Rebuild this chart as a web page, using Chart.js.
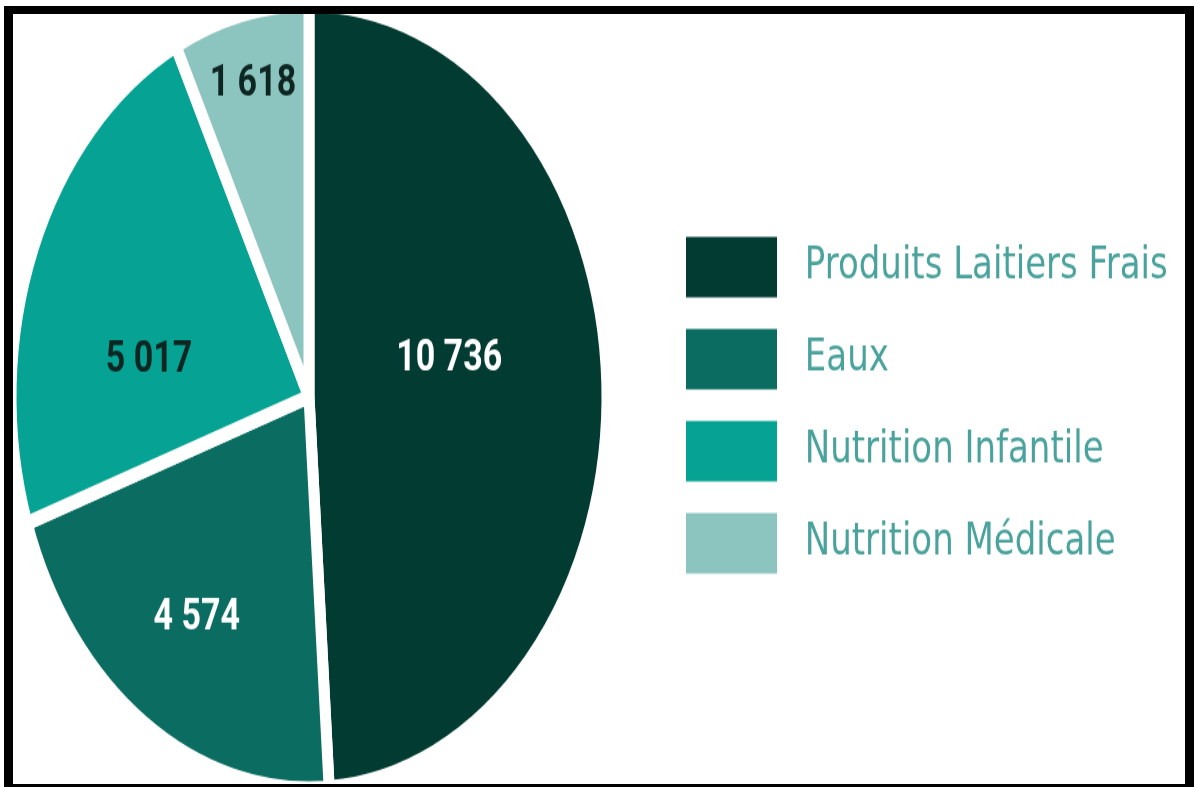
<!DOCTYPE html>
<html>
<head>
<meta charset="utf-8">
<script src="https://cdn.jsdelivr.net/npm/chart.js@4.4.1/dist/chart.umd.min.js"></script>
<style>
  html, body { margin: 0; padding: 0; background: #fff; width: 1195px; height: 787px; overflow: hidden; position: relative; }
  /* pie is drawn round, then stretched into the tall oval of the original */
  #wrap { position: absolute; left: -44px; top: -11px; transform: scaleY(1.315); transform-origin: 0 0; }
  #frame { position: absolute; left: 4px; top: 6px; width: 1190px; height: 781px; box-sizing: border-box;
           border-style: solid; border-color: #000; border-width: 8px 9px 3px 9px; pointer-events: none; }
</style>
</head>
<body>
<div id="wrap"><canvas id="myChart" width="1304" height="620"></canvas></div>
<div id="frame"></div>
<script>
const categories = ['Produits Laitiers Frais', 'Eaux', 'Nutrition Infantile', 'Nutrition Médicale'];
const sales = [10736, 4574, 5017, 1618];

const sliceColors = ['#023b32', '#0b6c61', '#06a394', '#8cc4bf'];
const numberColors = ['#ffffff', '#ffffff', '#0e2622', '#0e2622'];

const legendFont = { family: "'DejaVu Sans'", size: 34 };
const boxW = 91, itemGap = 24;

function fmt(v) {
    return String(v).replace(/\B(?=(\d{3})+(?!\d))/g, ' ');
}

// writes the value inside each slice
const sliceLabels = {
    id: 'sliceLabels',
    afterDatasetsDraw(chart, args, opts) {
        const ctx = chart.ctx;
        const meta = chart.getDatasetMeta(0);
        const values = chart.data.datasets[0].data;
        ctx.save();
        ctx.font = 'bold 34px Roboto';
        ctx.textAlign = 'center';
        ctx.textBaseline = 'middle';
        meta.data.forEach((arc, i) => {
            const p = arc.getProps(['x', 'y', 'startAngle', 'endAngle', 'outerRadius'], true);
            const a = (p.startAngle + p.endAngle) / 2 + opts.turn[i] * Math.PI / 180;
            const r = p.outerRadius * opts.reach[i];
            ctx.fillStyle = opts.colors[i];
            ctx.fillText(fmt(values[i]), p.x + Math.cos(a) * r, p.y + Math.sin(a) * r);
        });
        ctx.restore();
    }
};

const canvas = document.getElementById('myChart');
const ctx = canvas.getContext('2d');

// legend width fixed from the longest label so the pie lands where it should
ctx.font = legendFont.size + 'px ' + legendFont.family;
let longest = 0;
categories.forEach(c => { longest = Math.max(longest, ctx.measureText(' ' + c).width); });
const legendW = Math.ceil(itemGap + boxW + legendFont.size / 2 + longest + 4);
canvas.width = 706 + legendW;

const myChart = new Chart(ctx, {
    type: 'pie',
    data: {
        labels: categories,
        datasets: [{
            data: sales,
            backgroundColor: sliceColors,
            borderColor: '#ffffff',
            borderWidth: 11,
            radius: 298,
            clip: false
        }]
    },
    options: {
        responsive: false,
        animation: false,
        events: [],
        layout: { padding: 0 },
        plugins: {
            tooltip: { enabled: false },
            legend: {
                position: 'right',
                maxWidth: legendW,
                title: { display: true, text: '', padding: { top: 0, bottom: 12 }, font: { size: 1, lineHeight: 1 } },
                labels: {
                    boxWidth: boxW,
                    boxHeight: 46,
                    padding: itemGap,
                    color: '#4aa29c',
                    font: legendFont,
                    generateLabels(chart) {
                        const items = Chart.overrides.doughnut.plugins.legend.labels.generateLabels(chart);
                        return items.map(it => ({ ...it, text: ' ' + it.text, lineWidth: 0 }));
                    }
                }
            },
            sliceLabels: {
                turn: [-9.6, 0, -12.4, 0],
                reach: [0.48, 0.68, 0.545, 0.82],
                colors: numberColors
            }
        }
    },
    plugins: [sliceLabels]
});
</script>
</body>
</html>
